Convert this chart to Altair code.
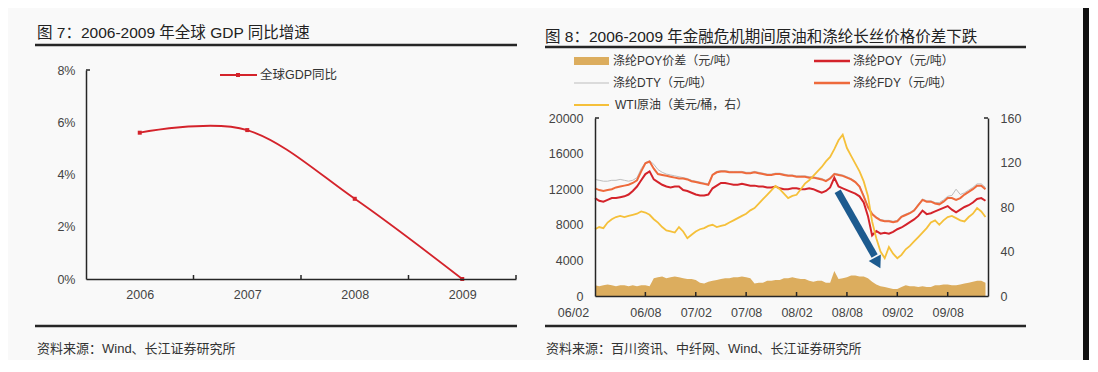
import altair as alt
import numpy as np
import pandas as pd

FONT = "Liberation Sans, Noto Sans CJK SC, sans-serif"
BG = "#f9f9f9"
DARK = "#262626"
RED = "#d4232b"
ORANGE = "#ee6a3c"
GRAY = "#bdbdbd"
YELLOW = "#f5c03a"
TAN = "#dcad5e"
BLUE = "#1d5b8f"

# ---------------- left chart: global GDP growth ----------------
years = [2006, 2007, 2008, 2009]
gdp_growth = [5.6, 5.7, 3.07, 0.0]
y_ticks_left = [0, 2, 4, 6, 8]

# ---------------- right chart: oil and polyester prices ----------------
# month offsets from 2006/02, half-month sampling
months = np.arange(0, 47, 0.5)
x_tick_months = [0, 6, 12, 18, 24, 30, 36, 42]
x_tick_labels = ["06/02", "06/08", "07/02", "07/08", "08/02", "08/08", "09/02", "09/08"]
left_ticks = [0, 4000, 8000, 12000, 16000, 20000]
right_ticks = [0, 40, 80, 120, 160]

poy = [11000, 10700, 10600, 10800, 11000, 11000, 11100, 11200, 11400, 11800,
       12300, 13000, 13700, 14000, 13100, 12800, 12500, 12300, 12200, 12300,
       12300, 11900, 11800, 11600, 11400, 11300, 11300, 11400, 12100, 12400,
       12700, 12700, 12600, 12500, 12500, 12600, 12500, 12400, 12400, 12300,
       12300, 12200, 12200, 12300, 12100, 12000, 12000, 12100, 12100, 12000,
       12000, 12100, 12000, 11800, 11600, 11800, 12200, 13300, 12300, 12100,
       11900, 11700, 11500, 11200, 10500, 9000, 6800, 7300, 7000, 7100,
       7000, 7200, 7500, 7700, 8000, 8300, 8600, 9000, 9600, 9200,
       9300, 9500, 9700, 9900, 10100, 9700, 9400, 9700, 10000, 10200,
       10500, 10900, 11000, 10700]
fdy = [12100, 11900, 11800, 11900, 12000, 12200, 12300, 12400, 12500, 12700,
       13000, 14000, 14900, 15100, 14300, 13700, 13600, 13500, 13400, 13300,
       13200, 13200, 13100, 12900, 12800, 12700, 12600, 12500, 13600, 13900,
       14000, 14000, 13900, 13900, 13900, 13900, 13800, 13800, 13900, 13800,
       13700, 13600, 13600, 13700, 13700, 13600, 13500, 13500, 13400, 13400,
       13400, 13300, 13300, 13200, 13100, 12900, 13200, 13700, 13600, 13500,
       13300, 13100, 12800, 12300, 11200, 10000, 9200, 8800, 8500, 8400,
       8400, 8300, 8400, 8900, 9100, 9300, 9600, 10200, 10800, 10600,
       10600, 10400, 10300, 10600, 11000, 11000, 10800, 11000, 11400, 11700,
       12000, 12400, 12400, 12000]
dty = [13100, 13000, 12900, 12900, 13000, 13000, 13100, 13000, 12900, 13000,
       13300, 14300, 15000, 15200, 14800, 14200, 13900, 13700, 13600, 13500,
       13400, 13300, 13200, 13000, 12900, 12800, 12700, 12600, 13700, 14000,
       14100, 14100, 14000, 14000, 14000, 14000, 13900, 13900, 14000, 13900,
       13800, 13700, 13700, 13800, 13800, 13700, 13600, 13600, 13500, 13500,
       13500, 13400, 13400, 13300, 13200, 13000, 13300, 13800, 13700, 13600,
       13400, 13200, 12900, 12400, 11300, 10100, 9300, 8900, 8600, 8500,
       8500, 8400, 8500, 9000, 9200, 9400, 9700, 10300, 10900, 10700,
       10700, 10500, 10500, 10800, 11200, 11300, 12000, 11400, 11600, 11900,
       12200, 12600, 12600, 12200]
wti = [60, 62, 61, 66, 69, 71, 72, 71, 72, 73,
       74, 76, 75, 73, 69, 66, 62, 59, 58, 57,
       62, 58, 52, 55, 58, 60, 61, 63, 64, 62,
       63, 64, 66, 68, 70, 72, 74, 77, 79, 83,
       87, 91, 95, 99, 96, 92, 88, 90, 91, 96,
       101, 104, 108, 112, 116, 121, 125, 132, 140, 145,
       133, 126, 119, 112, 103, 90, 67, 52, 40, 34,
       44, 38, 34, 37, 42, 45, 49, 53, 57, 61,
       66, 68, 64, 68, 71, 72, 70, 68, 67, 71,
       74, 79, 76, 71]
poy_spread = [1200, 1100, 1200, 1300, 1200, 1100, 1200, 1200, 1100, 1200,
              1100, 1200, 1200, 1100, 2000, 2100, 2200, 2000, 2100, 2200,
              2100, 2000, 1900, 1900, 1800, 1500, 1400, 1600, 1700, 1800,
              1900, 2000, 2000, 2100, 2100, 2200, 2100, 2000, 1400, 1500,
              1500, 1700, 1700, 1800, 1800, 2000, 2000, 2100, 2000, 1900,
              1900, 1700, 1600, 1700, 1700, 1500, 1500, 2800, 1900, 2000,
              2100, 2300, 2300, 2200, 2200, 2000, 1600, 1300, 1100, 1000,
              900, 800, 800, 1000, 1200, 1100, 1100, 1000, 1100, 1000,
              1000, 1200, 1200, 1300, 1300, 1200, 1200, 1300, 1400, 1500,
              1600, 1700, 1700, 1500]

# arrow annotation (month offset, left-axis value)
arrow_start = (28.9, 11770)
arrow_end = (33.3, 4500)
arrow_head = (33.65, 3700)

one = pd.DataFrame({"a": [0]})


def text(x, y, s, size=12, color="#333", align="left"):
    return alt.Chart(one).mark_text(
        align=align, baseline="middle", font=FONT, fontSize=size, color=color
    ).encode(x=alt.value(x), y=alt.value(y), text=alt.value(s))


def hrule(x1, x2, y, color=DARK, width=2.5):
    return alt.Chart(one).mark_rule(color=color, strokeWidth=width).encode(
        x=alt.value(x1), x2=alt.value(x2), y=alt.value(y))


axis_common = dict(grid=False, ticks=False, title=None, domainColor=DARK, domainWidth=1.5,
                   labelFont=FONT, labelFontSize=12.5, labelColor="#444",
                   labelFlush=False, labelOverlap=False, zindex=1)

# ---------------- left panel ----------------
LW, LH = 430, 209
gdp_df = pd.DataFrame({"year": years, "gdp": gdp_growth})

bg = alt.Chart(one).mark_rect(fill=BG).encode(
    x=alt.value(-78), x2=alt.value(1003), y=alt.value(-62), y2=alt.value(290))
frame_r = alt.Chart(one).mark_rect(fill="#111111").encode(
    x=alt.value(997), x2=alt.value(1003), y=alt.value(-62), y2=alt.value(290))

xL = alt.X("year:Q", scale=alt.Scale(domain=[2005.5, 2009.5], nice=False, zero=False),
           axis=alt.Axis(values=years, format="d", labelPadding=9, **axis_common))
yL = alt.Y("gdp:Q", scale=alt.Scale(domain=[0, 8], nice=False),
           axis=alt.Axis(values=y_ticks_left, labelExpr="datum.value + '%'", labelPadding=11,
                         **axis_common))
gdp_line = alt.Chart(gdp_df).mark_line(interpolate="cardinal", color=RED, strokeWidth=1.8).encode(x=xL, y=yL)
gdp_pts = alt.Chart(gdp_df).mark_point(shape="square", filled=True, size=16, color=RED, opacity=1).encode(
    x="year:Q", y="gdp:Q")

ticks_l = alt.Chart(pd.DataFrame({"b": [2006.5, 2007.5, 2008.5, 2009.5]})).mark_rule(
    color=DARK, strokeWidth=1.5).encode(x="b:Q", y=alt.value(LH), y2=alt.value(LH - 4))
ytick_l = hrule(0, 4, 0, width=1.5)

left = alt.layer(
    bg, frame_r,
    text(-49, -37, "图 7：2006-2009 年全球 GDP 同比增速", size=15.5, color="#222"),
    hrule(-51, 431, -25),
    hrule(-51, 431, 256),
    text(-49, 279, "资料来源：Wind、长江证券研究所", size=13, color="#333"),
    hrule(134, 171, 5, color=RED, width=1.8),
    alt.Chart(one).mark_point(shape="square", filled=True, size=16, color=RED, opacity=1).encode(
        x=alt.value(152), y=alt.value(5)),
    text(174, 5, "全球GDP同比", size=12.5),
    gdp_line, gdp_pts, ticks_l, ytick_l,
).properties(width=LW, height=LH)

# ---------------- right panel ----------------
RW, RH = 393, 226
yrange = [RH, 48]
df = pd.DataFrame({"m": months, "poy": poy, "fdy": fdy, "dty": dty, "wti": wti, "spread": poy_spread})

label_arr = "[" + ",".join("'%s'" % s for s in x_tick_labels) + "]"
xR = alt.X("m:Q", scale=alt.Scale(domain=[0, 46.8], nice=False, zero=False),
           axis=alt.Axis(values=x_tick_months, labelExpr=label_arr + "[round(datum.value/6)]",
                         labelPadding=10,
                         labelOffset={"condition": {"test": "datum.value == 0", "value": -22}, "value": 0},
                         **axis_common))


def yleft(field, axis=None):
    return alt.Y(field + ":Q", scale=alt.Scale(domain=[0, 20000], range=yrange, nice=False), axis=axis)


spread_area = alt.Chart(df).mark_area(color=TAN, opacity=1).encode(
    x=xR, y=yleft("spread", alt.Axis(values=left_ticks, format="d", labelPadding=12, **axis_common)))
dty_line = alt.Chart(df).mark_line(color=GRAY, strokeWidth=1).encode(x="m:Q", y=yleft("dty"))
fdy_line = alt.Chart(df).mark_line(color=ORANGE, strokeWidth=2).encode(x="m:Q", y=yleft("fdy"))
poy_line = alt.Chart(df).mark_line(color=RED, strokeWidth=2).encode(x="m:Q", y=yleft("poy"))
wti_line = alt.Chart(df).mark_line(color=YELLOW, strokeWidth=1.8).encode(
    x="m:Q",
    y=alt.Y("wti:Q", scale=alt.Scale(domain=[0, 160], range=yrange, nice=False),
            axis=alt.Axis(orient="right", values=right_ticks, labelPadding=12, **axis_common)))

arrow_df = pd.DataFrame({"m0": [arrow_start[0]], "v0": [arrow_start[1]],
                         "m1": [arrow_end[0]], "v1": [arrow_end[1]],
                         "mh": [arrow_head[0]], "vh": [arrow_head[1]]})
arrow_shaft = alt.Chart(arrow_df).mark_rule(color=BLUE, strokeWidth=7).encode(
    x="m0:Q", x2="m1:Q", y=yleft("v0"), y2="v1:Q")
arrow_tip = alt.Chart(arrow_df).mark_point(shape="triangle-down", filled=True, size=190,
                                           angle=332, color=BLUE, opacity=1).encode(
    x="mh:Q", y=yleft("vh"))

ticks_r = alt.Chart(pd.DataFrame({"t": x_tick_months[1:]})).mark_rule(
    color=DARK, strokeWidth=1.5).encode(x="t:Q", y=alt.value(RH), y2=alt.value(RH - 4))

legend_items = [
    alt.Chart(one).mark_rect(fill=TAN).encode(x=alt.value(-21), x2=alt.value(14),
                                              y=alt.value(-13), y2=alt.value(-5)),
    text(18, -9, "涤纶POY价差（元/吨）"),
    hrule(219, 255, -9, color=RED, width=2.5),
    text(258, -9, "涤纶POY（元/吨）"),
    hrule(-21, 14, 13, color=GRAY, width=1.2),
    text(18, 13, "涤纶DTY（元/吨）"),
    hrule(219, 255, 13, color=ORANGE, width=2.5),
    text(258, 13, "涤纶FDY（元/吨）"),
    hrule(-21, 14, 35, color=YELLOW, width=1.8),
    text(20, 35, "WTI原油（美元/桶，右）"),
]

right = alt.layer(
    spread_area, dty_line, fdy_line, poy_line, wti_line, arrow_shaft, arrow_tip, ticks_r,
    hrule(0, 4, 48, width=1.5), hrule(RW - 4, RW, 48, width=1.5),
    text(-50, -33, "图 8：2006-2009 年金融危机期间原油和涤纶长丝价格价差下跌", size=15.5, color="#222"),
    hrule(-50, 431, -23),
    hrule(-50, 431, 256),
    text(-49, 279, "资料来源：百川资讯、中纤网、Wind、长江证券研究所", size=13, color="#333"),
    *legend_items,
).resolve_scale(y="independent").properties(width=RW, height=RH)

chart = alt.hconcat(left, right, spacing=79, bounds="flush").properties(
    background=BG, padding=0
).configure_view(stroke=None)

chart.save("out.html", embed_options={"renderer": "svg", "actions": False})
